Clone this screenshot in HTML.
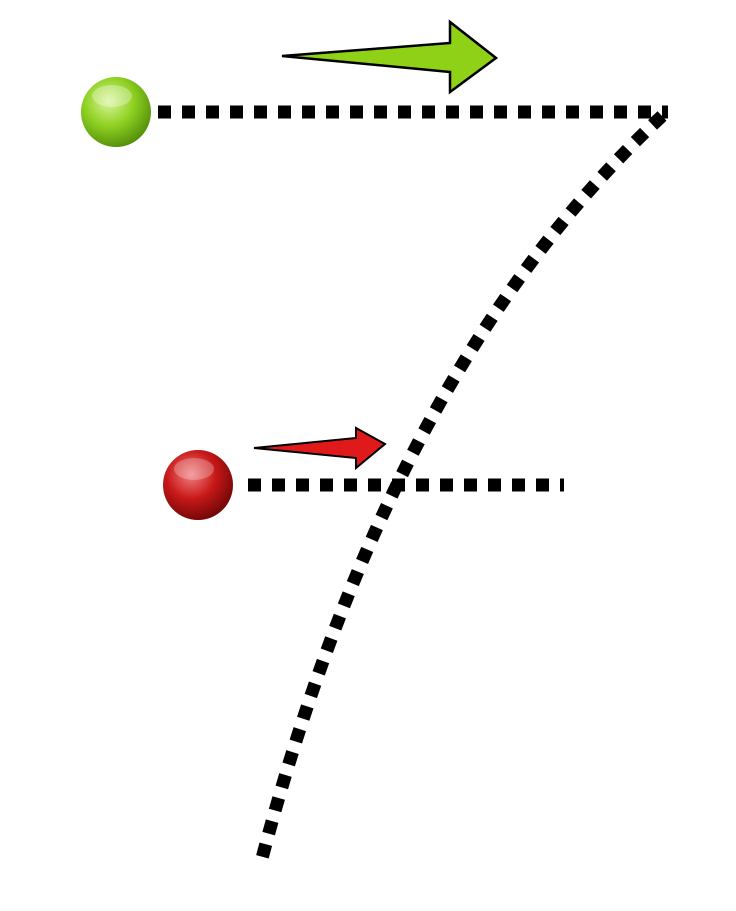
<!DOCTYPE html>
<html><head><style>html,body{margin:0;padding:0;background:#fff}</style></head>
<body>
<svg width="736" height="906" viewBox="0 0 736 906" xmlns="http://www.w3.org/2000/svg">
<defs>
<radialGradient id="g" cx="0.4" cy="0.35" r="0.7">
<stop offset="0" stop-color="#d8f59a"/><stop offset="0.5" stop-color="#8fd122"/><stop offset="1" stop-color="#4f8a08"/>
</radialGradient>
<radialGradient id="r" cx="0.4" cy="0.35" r="0.7">
<stop offset="0" stop-color="#f08080"/><stop offset="0.5" stop-color="#c81818"/><stop offset="1" stop-color="#6a0505"/>
</radialGradient>
</defs>
<g fill="none" stroke="#000" stroke-width="13">
<path d="M158 112 H668" stroke-dasharray="13 11"/>
<path d="M248 485 H564" stroke-dasharray="13 11"/>
<path d="M662 116 C 475 290 345 540 260 866" stroke-dasharray="13 11"/>
</g>
<circle cx="116" cy="112" r="35" fill="url(#g)"/>
<ellipse cx="112" cy="96" rx="20" ry="11" fill="#fff" opacity="0.3"/>
<circle cx="198" cy="485" r="35" fill="url(#r)"/>
<ellipse cx="194" cy="469" rx="20" ry="11" fill="#fff" opacity="0.25"/>
<polygon points="282,56 450,43 450,22 496,58 450,92 450,72" fill="#8fd117" stroke="#000" stroke-width="2.5" stroke-linejoin="miter"/>
<polygon points="254,448 356,438 356,428 385,444 356,468 356,458" fill="#e01a1a" stroke="#000" stroke-width="2" stroke-linejoin="miter"/>
</svg>
</body></html>
